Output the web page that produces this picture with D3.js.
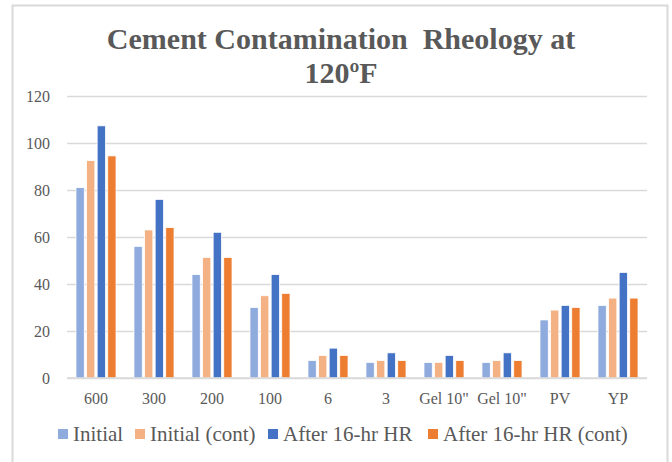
<!DOCTYPE html>
<html><head><meta charset="utf-8">
<script src="https://cdn.jsdelivr.net/npm/d3@7"></script>
<style>html,body{margin:0;padding:0;background:#fff;}svg{display:block;}</style>
</head><body>
<svg id="chart" width="672" height="462"></svg>
<script>
const categories = ["600","300","200","100","6","3","Gel 10\"","Gel 10\"","PV","YP"];
const seriesNames = ["Initial","Initial (cont)","After 16-hr HR","After 16-hr HR (cont)"];
const initial      = [81, 56, 44, 30, 7.4, 6.6, 6.6, 6.6, 24.7, 30.9];
const initialCont  = [92.5, 63, 51.3, 35, 9.6, 7.4, 6.6, 7.4, 28.9, 34];
const after16      = [107.3, 76, 62, 44, 12.7, 10.7, 9.6, 10.7, 30.9, 44.9];
const after16Cont  = [94.5, 64, 51.3, 36, 9.6, 7.4, 7.4, 7.4, 30, 34];
const yTicks = [0, 20, 40, 60, 80, 100, 120];
const colors = ["#8faadc", "#f4b183", "#4472c4", "#ed7d31"];

const seriesValues = [initial, initialCont, after16, after16Cont];
const svg = d3.select("#chart");
const font = "'Liberation Serif', 'Times New Roman', serif";

// outer frame
svg.append("rect").attr("x", 12.5).attr("y", 5.5).attr("width", 655).attr("height", 470)
  .attr("fill", "#fff").attr("stroke", "#d9d9d9").attr("stroke-width", 2);

// title
const title = svg.append("text").attr("text-anchor", "middle")
  .attr("font-family", font)
  .attr("font-weight", "bold").attr("font-size", 30).attr("fill", "#595959");
title.append("tspan").attr("x", 341).attr("y", 49).text("Cement Contamination\u00a0 Rheology at");
title.append("tspan").attr("x", 341).attr("y", 83).text("120ºF");

const plot = {left: 67, right: 647, top: 96, bottom: 378};
const x0 = d3.scaleBand().domain(d3.range(categories.length)).range([plot.left, plot.right]).paddingInner(0.31).paddingOuter(0.155);
const x1 = d3.scaleBand().domain(d3.range(seriesNames.length)).range([0, x0.bandwidth()]).paddingInner(0.22);
const y = d3.scaleLinear().domain([0, 120]).range([plot.bottom, plot.top]);

// gridlines
const yAxis = d3.axisLeft(y).tickValues(yTicks).tickSize(-(plot.right - plot.left)).tickPadding(17);
const gy = svg.append("g").attr("transform", `translate(${plot.left},0)`).call(yAxis);
gy.select(".domain").remove();
gy.selectAll(".tick line").attr("stroke", "#d9d9d9").attr("stroke-width", 1.5);
gy.selectAll(".tick text").attr("font-family", font)
  .attr("font-size", 16).attr("fill", "#595959");

// bars
const groups = svg.append("g").selectAll("g").data(categories).join("g")
  .attr("transform", (d, i) => `translate(${x0(i)},0)`);
groups.selectAll("rect").data((d, i) => seriesValues.map((s, k) => ({k, v: s[i]}))).join("rect")
  .attr("x", d => x1(d.k)).attr("width", x1.bandwidth())
  .attr("y", d => y(d.v)).attr("height", d => y(0) - y(d.v))
  .attr("fill", d => colors[d.k]).attr("stroke", "#fff").attr("stroke-width", 0.75);

// x axis
const xAxis = d3.axisBottom(x0).tickFormat(i => categories[i]).tickSize(0).tickPadding(15);
const gx = svg.append("g").attr("transform", `translate(0,${plot.bottom})`).call(xAxis);
gx.select(".domain").remove();
svg.append("line").attr("x1", plot.left).attr("x2", plot.right).attr("y1", plot.bottom).attr("y2", plot.bottom)
  .attr("stroke", "#d9d9d9").attr("stroke-width", 1.5);
gx.selectAll(".tick text").attr("font-family", font)
  .attr("font-size", 16).attr("fill", "#595959");

// legend
const legendX = [58, 135, 268, 428];
const lg = svg.append("g").selectAll("g").data(seriesNames).join("g")
  .attr("transform", (d, i) => `translate(${legendX[i]},429)`);
lg.append("rect").attr("width", 10).attr("height", 10).attr("fill", (d, i) => colors[i]);
lg.append("text").attr("x", 15).attr("y", 12).text(d => d)
  .attr("font-family", font)
  .attr("font-size", 21).attr("fill", "#595959");
</script>
</body></html>
